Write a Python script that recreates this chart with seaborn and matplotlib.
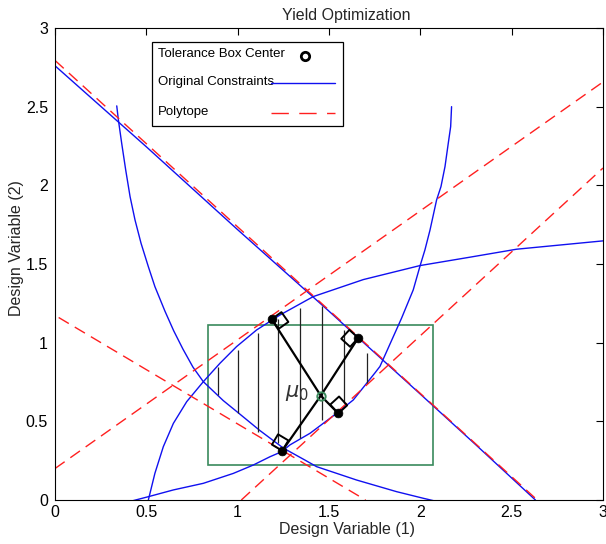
import numpy as np
import pandas as pd
import matplotlib
matplotlib.use("Agg")
import matplotlib.pyplot as plt
import seaborn as sns
from matplotlib.patches import Rectangle

# ---------------- data ----------------
title = "Yield Optimization"
x_label = "Design Variable (1)"
y_label = "Design Variable (2)"
tick_values = [0, 0.5, 1, 1.5, 2, 2.5, 3]
tick_labels = ["0", "0.5", "1", "1.5", "2", "2.5", "3"]
legend_labels = ["Tolerance Box Center", "Original Constraints", "Polytope"]
center_label = r"$\mu_0$"

# original constraints (blue curves)
c1_x = [0.0, 0.5, 1.0, 1.5, 2.0, 2.3, 2.63]
c1_y = [2.76, 2.245, 1.718, 1.20, 0.673, 0.355, 0.0]

c2_x = [0.338, 0.347, 0.365, 0.387, 0.411, 0.438, 0.471, 0.511, 0.547, 0.602,
        0.650, 0.70, 0.755, 0.812, 0.921, 1.013, 1.12, 1.25, 1.368, 1.432,
        1.651, 1.87, 2.016, 2.071]
c2_y = [2.505, 2.416, 2.268, 2.098, 1.928, 1.780, 1.632, 1.483, 1.356, 1.20,
        1.075, 0.96, 0.845, 0.752, 0.632, 0.545, 0.443, 0.33, 0.254, 0.212,
        0.127, 0.053, 0.011, -0.004]

c3_x = [0.511, 0.547, 0.593, 0.648, 0.721, 0.812, 0.903, 0.994, 1.104,
        1.232, 1.414, 1.688, 1.998, 2.27, 2.527, 3.0]
c3_y = [0.0, 0.17, 0.339, 0.487, 0.625, 0.752, 0.869, 0.975, 1.081,
        1.176, 1.293, 1.401, 1.490, 1.543, 1.594, 1.647]

c4_x = [0.428, 0.511, 0.648, 0.812, 0.976, 1.085, 1.177, 1.241, 1.286, 1.396,
        1.542, 1.633, 1.751, 1.779, 1.897, 1.961, 2.0, 2.025, 2.053, 2.089,
        2.113, 2.135, 2.153, 2.166, 2.171]
c4_y = [-0.004, 0.021, 0.064, 0.106, 0.169, 0.222, 0.275, 0.307, 0.35, 0.424,
        0.551, 0.636, 0.807, 0.849, 1.155, 1.335, 1.494, 1.589, 1.716, 1.907,
        1.992, 2.119, 2.268, 2.373, 2.50]

constraints_x = [c1_x, c2_x, c3_x, c4_x]
constraints_y = [c1_y, c2_y, c3_y, c4_y]

# polytope (red dashed lines), endpoints
poly_x = [[0.0, 2.64], [0.02, 1.70], [0.0, 3.0], [1.02, 3.0]]
poly_y = [[2.794, 0.0], [1.16, 0.0], [0.20, 2.657], [0.0, 2.11]]

# tolerance box
box_x = [0.84, 2.07]
box_y = [0.22, 1.113]

# tolerance box center
center_x = 1.455
center_y = 0.663

# contact points on polytope and the polytope line they touch
dot_x = [1.186, 1.66, 1.551, 1.244]
dot_y = [1.150, 1.030, 0.550, 0.313]
dot_line = [2, 0, 3, 1]

# hatch lines inside feasible region
hatch_x = [0.894, 1.0, 1.11, 1.219, 1.341, 1.46, 1.584, 1.706]
hatch_lo = [0.667, 0.551, 0.434, 0.36, 0.392, 0.509, 0.615, 0.741]
hatch_hi = [0.847, 0.953, 1.06, 1.150, 1.219, 1.233, 1.081, 0.932]

# ---------------- style ----------------
sns.set_theme(style="white")
plt.rcParams["font.family"] = ["Liberation Sans", "DejaVu Sans"]
plt.rcParams["axes.edgecolor"] = "black"
plt.rcParams["axes.linewidth"] = 0.8

BLUE = "#1010f0"
RED = "#ff1f1f"
GREEN = "#3a8a5c"
DASH = (0, (8.5, 5))

W, H = 606, 544
AX_L, AX_R, AX_T, AX_B = 55, 603, 28, 500
fig = plt.figure(figsize=(W / 100, H / 100), dpi=100)
ax = fig.add_axes([AX_L / W, (H - AX_B) / H, (AX_R - AX_L) / W, (AX_B - AX_T) / H])
ax.set_xlim(0, 3)
ax.set_ylim(0, 3)


def axfrac(px, py):
    return (px - AX_L) / (AX_R - AX_L), (AX_B - py) / (AX_B - AX_T)


# blue constraint curves
for cx, cy in zip(constraints_x, constraints_y):
    df = pd.DataFrame({"x": cx, "y": cy})
    sns.lineplot(data=df, x="x", y="y", ax=ax, color=BLUE, lw=1.0,
                 sort=False, estimator=None, legend=False)

# red polytope lines
for px, py in zip(poly_x, poly_y):
    df = pd.DataFrame({"x": px, "y": py})
    sns.lineplot(data=df, x="x", y="y", ax=ax, color=RED, lw=1.0,
                 linestyle=DASH, sort=False, estimator=None, legend=False)

# tolerance box
ax.add_patch(Rectangle((box_x[0], box_y[0]), box_x[1] - box_x[0],
                       box_y[1] - box_y[0], fill=False, ec=GREEN, lw=1.2))

# hatch
ax.vlines(hatch_x, hatch_lo, hatch_hi, colors="#222222", lw=0.9)

# black segments from center to contact points
for dx, dy in zip(dot_x, dot_y):
    ax.plot([center_x, dx], [center_y, dy], color="black", lw=1.6,
            solid_capstyle="butt")

# right-angle markers (built in display space)
fig.canvas.draw()
tr = ax.transData
inv = tr.inverted()
side = 12.0
for dx, dy, li in zip(dot_x, dot_y, dot_line):
    p = tr.transform((dx, dy))
    a = tr.transform((poly_x[li][0], poly_y[li][0]))
    b = tr.transform((poly_x[li][1], poly_y[li][1]))
    v = b - a
    v = v / np.hypot(*v)
    if v[1] < 0:
        v = -v
    c = tr.transform((center_x, center_y))
    u = np.array([-v[1], v[0]])
    if np.dot(u, c - p) < 0:
        u = -u
    pts = np.array([p, p + side * u, p + side * u + side * v, p + side * v, p])
    d = inv.transform(pts)
    ax.plot(d[:, 0], d[:, 1], color="black", lw=1.4)

# contact dots
sns.scatterplot(x=dot_x, y=dot_y, ax=ax, color="black", s=40,
                edgecolor="black", linewidth=0.5, zorder=5, legend=False)

# center marker
ax.plot([center_x], [center_y], marker="o", ms=6, mfc="none", mec=GREEN,
        mew=1.4, ls="none", zorder=6)
ax.text(1.323, 0.68, center_label, fontsize=15, color="#333333",
        ha="center", va="center")

# axes styling
ax.set_xticks(tick_values, labels=tick_labels)
ax.set_yticks(tick_values, labels=tick_labels)
ax.tick_params(direction="in", top=True, right=True, length=5, width=0.8,
               colors="black", labelsize=11.5)
ax.tick_params(axis="x", pad=3.5)
ax.tick_params(axis="y", pad=5)
for s in ax.spines.values():
    s.set_color("black")
    s.set_linewidth(0.8)
ax.grid(False)

ax.set_title(title, fontsize=11.5, x=0.531, pad=6)
ax.set_xlabel(x_label, fontsize=11.5)
ax.set_ylabel(y_label, fontsize=11.5)
ax.xaxis.set_label_coords(0.532, -0.046)
ax.yaxis.set_label_coords(-0.057, 0.534)

# ---------------- legend (MATLAB-style: text left, symbol right) ----------------
x0, y0 = axfrac(151.7, 125.7)
x1, y1 = axfrac(342.7, 42.3)
ax.add_patch(Rectangle((x0, y0), x1 - x0, y1 - y0, transform=ax.transAxes,
                       fc="white", ec="black", lw=0.9, zorder=10))
row_y = [54, 82, 111.5]
tx, _ = axfrac(158, 0)
for lab, ry in zip(legend_labels, row_y):
    _, ty = axfrac(0, ry)
    ax.text(tx, ty, lab, transform=ax.transAxes, fontsize=9.5, color="black",
            ha="left", va="center", zorder=11)
hx0, _ = axfrac(271, 0)
hx1, _ = axfrac(335, 0)
mx, my = axfrac(305, 55.5)
ax.plot([mx], [my], transform=ax.transAxes, marker="o", ms=6, mfc="none",
        mec="black", mew=2, ls="none", zorder=12, clip_on=False)
_, ly = axfrac(0, 83)
ax.plot([hx0, hx1], [ly, ly], transform=ax.transAxes, color=BLUE, lw=1.0,
        zorder=12, clip_on=False)
_, ly = axfrac(0, 112.5)
ax.plot([hx0, hx1], [ly, ly], transform=ax.transAxes, color=RED, lw=1.0,
        linestyle=(0, (12.5, 7.5)), zorder=12, clip_on=False)

fig.savefig("out.png", dpi=100)
